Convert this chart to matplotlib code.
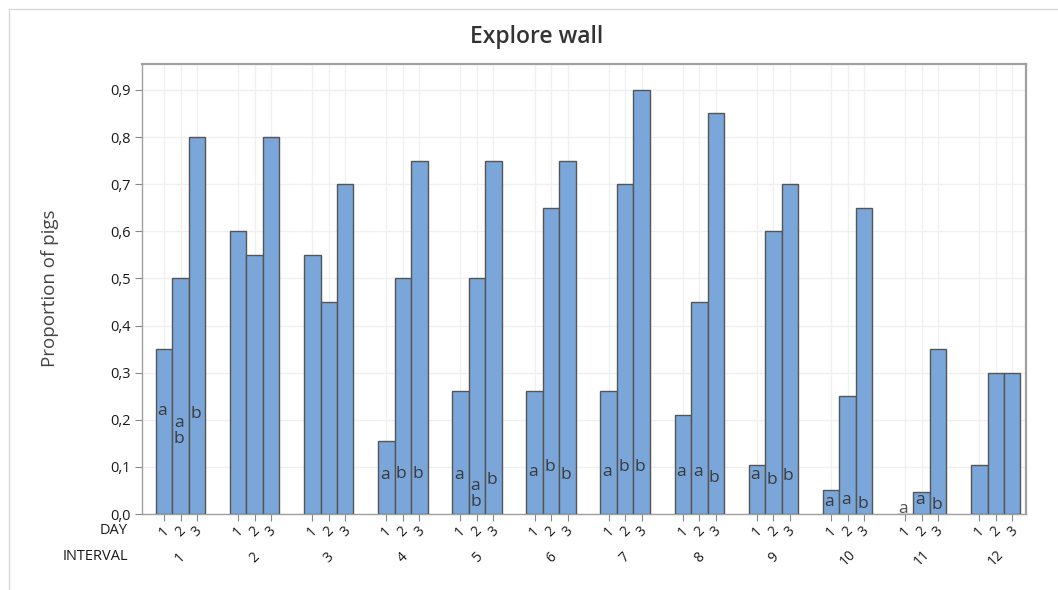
import matplotlib.pyplot as plt
from matplotlib.lines import Line2D
import numpy as np

plt.rcParams['font.family'] = ['Open Sans', 'DejaVu Sans']

# proportion of pigs exploring the wall, per interval (1-12) and day (1-3)
intervals = [str(i) for i in range(1, 13)]
days = ['1', '2', '3']
day1 = [0.35, 0.60, 0.55, 0.155, 0.26, 0.26, 0.26, 0.21, 0.105, 0.05, 0.0, 0.105]
day2 = [0.50, 0.55, 0.45, 0.50, 0.50, 0.65, 0.70, 0.45, 0.60, 0.25, 0.047, 0.30]
day3 = [0.80, 0.80, 0.70, 0.75, 0.75, 0.75, 0.90, 0.85, 0.70, 0.65, 0.35, 0.30]

# significance letters and the height at which they are written
letters1 = ['a', '', '', 'a', 'a', 'a', 'a', 'a', 'a', 'a', 'a', '']
letters2 = ['a\nb', '', '', 'b', 'a\nb', 'b', 'b', 'a', 'b', 'a', 'a', '']
letters3 = ['b', '', '', 'b', 'b', 'b', 'b', 'b', 'b', 'b', 'b', '']
letter_y1 = [0.219, 0, 0, 0.083, 0.083, 0.089, 0.089, 0.089, 0.083, 0.025, 0.011, 0]
letter_y2 = [0.176, 0, 0, 0.085, 0.042, 0.100, 0.100, 0.089, 0.072, 0.030, 0.030, 0]
letter_y3 = [0.212, 0, 0, 0.085, 0.072, 0.083, 0.100, 0.076, 0.080, 0.021, 0.019, 0]

bar_color = '#7BA6D9'
edge_color = '#555555'
frame_color = '#A0A0A0'
text_color = '#333333'

fig = plt.figure(figsize=(10.58, 5.90), dpi=100)
ax = fig.add_axes([0.1342, 0.1288, 0.8356, 0.7627])

group_step = 4.5
series = [day1, day2, day3]
letters = [letters1, letters2, letters3]
letter_y = [letter_y1, letter_y2, letter_y3]

for d, (vals, labs, ys) in enumerate(zip(series, letters, letter_y)):
    x = np.arange(len(intervals)) * group_step + d
    ax.bar(x, vals, width=1.0, color=bar_color, edgecolor=edge_color,
           linewidth=1.0, zorder=3)
    for xi, s, yi, v in zip(x, labs, ys, vals):
        if s:
            # letters over an empty bar sit on the white background
            col = '#555555' if v == 0 else '#3a3a3a'
            ax.text(xi - 0.1, yi, s, ha='center', va='center', fontsize=12.5,
                    color=col, linespacing=1.0, zorder=4)

tick_pos = []
tick_lab = []
for g in range(len(intervals)):
    for d in range(len(days)):
        tick_pos.append(g * group_step + d)
        tick_lab.append(days[d])

ax.set_xlim(-1.34, 11 * group_step + 2.84)
ax.set_ylim(0, 0.955)
ax.set_xticks(tick_pos)
ax.set_xticklabels(tick_lab, rotation=45, ha='center', fontsize=10)
yt = np.arange(0, 0.91, 0.1)
ax.set_yticks(yt)
ax.set_yticklabels(['{:.1f}'.format(v).replace('.', ',') for v in yt], fontsize=10.5)

ax.tick_params(axis='x', length=5, color='#888888', pad=2, labelcolor='#1a1a1a')
ax.tick_params(axis='y', length=5, color='#888888', pad=3, labelcolor='#1a1a1a')

ax.grid(True, color='#f0f0f0', linewidth=1.0, zorder=0)
ax.set_axisbelow(True)
for side in ['left', 'bottom']:
    ax.spines[side].set_color(frame_color)
    ax.spines[side].set_linewidth(1.0)
for side in ['top', 'right']:
    ax.spines[side].set_color(frame_color)
    ax.spines[side].set_linewidth(1.6)

# interval labels under each group of days
trans = ax.get_xaxis_transform()
for g, lab in enumerate(intervals):
    ax.text(g * group_step + 1, -0.098, lab, rotation=45, ha='center', va='center',
            fontsize=10, color='#1a1a1a', transform=trans)

fig.text(128 / 1058, 1 - 531 / 590, 'DAY', ha='right', va='center', fontsize=10.5,
         color='#1a1a1a')
fig.text(128 / 1058, 1 - 556 / 590, 'INTERVAL', ha='right', va='center', fontsize=10.5,
         color='#1a1a1a')

fig.text(50 / 1058, 1 - 288 / 590, 'Proportion of pigs', rotation=90, ha='center',
         va='center', fontsize=13.5, color='#444444')
fig.text(537 / 1058, 1 - 37 / 590, 'Explore wall', ha='center', va='center',
         fontsize=16.5, fontweight='semibold', color=text_color)

# thin grey frame around the graph window
fig.add_artist(Line2D([9 / 1058, 9 / 1058], [0, 1 - 9 / 590], color='#d8d8d8',
                      linewidth=1.0, transform=fig.transFigure))
fig.add_artist(Line2D([9 / 1058, 1], [1 - 9 / 590, 1 - 9 / 590], color='#d8d8d8',
                      linewidth=1.0, transform=fig.transFigure))

fig.savefig('out.png', dpi=100)
